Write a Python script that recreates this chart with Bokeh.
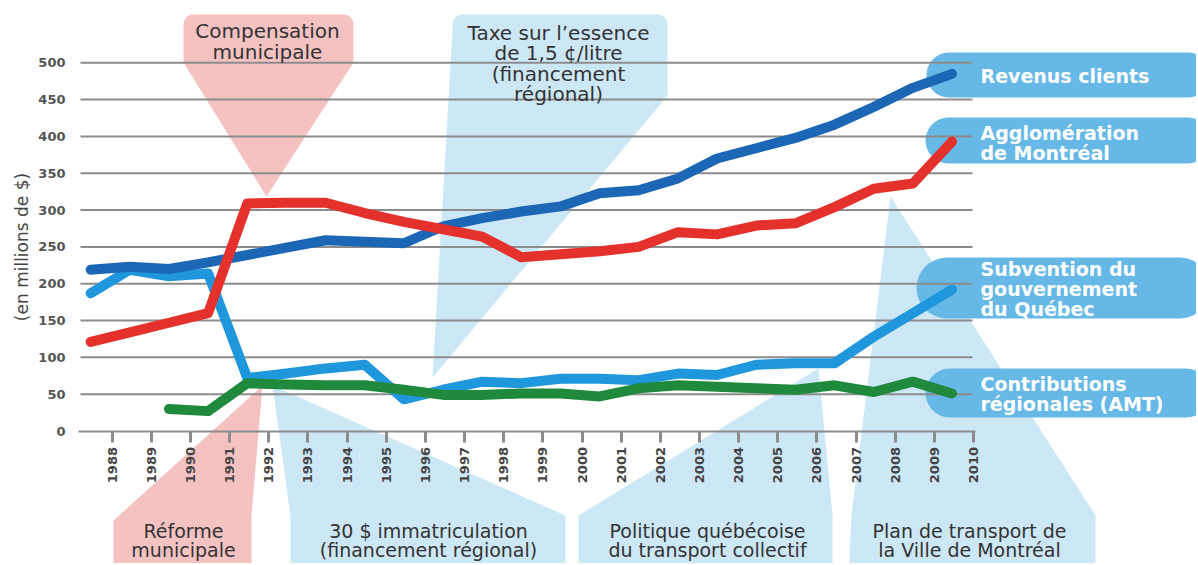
import math
import numpy as np
from bokeh.plotting import figure
from bokeh.models import Range1d, LinearAxis, FixedTicker
from bokeh.core.properties import value
from bokeh.embed import file_html
from bokeh.resources import INLINE

# ---------------- data ----------------
years = list(range(1988, 2011))
revenus_clients = [219, 223, 220, 229, 239, 249, 259, 257, 255, 278, 289, 298,
                   305, 323, 327, 343, 370, 384, 398, 416, 440, 466, 485]
agglomeration = [121, 134, 147, 160, 309, 310, 310, 296, 284, 274, 264, 236,
                 240, 244, 250, 270, 267, 279, 282, 304, 329, 336, 393]
subvention = [187, 219, 210, 214, 72, 78, 85, 90, 43, 56, 67, 65,
              71, 71, 69, 78, 76, 90, 92, 92, 128, 160, 192]
amt_years = list(range(1990, 2011))
contributions = [30, 27, 65, 63, 62, 62, 56, 49, 49, 51, 51, 47,
                 58, 62, 60, 58, 56, 62, 53, 67, 51]

y_ticks = [0, 50, 100, 150, 200, 250, 300, 350, 400, 450, 500]
y_title = "(en millions de $)"

series_labels = [
    ["Revenus clients"],
    ["Agglomération", "de Montréal"],
    ["Subvention du", "gouvernement", "du Québec"],
    ["Contributions", "régionales (AMT)"],
]
events_top = [["Compensation", "municipale"],
              ["Taxe sur l’essence", "de 1,5 ¢/litre", "(financement", "régional)"]]
events_bottom = [["Réforme", "municipale"],
                 ["30 $ immatriculation", "(financement régional)"],
                 ["Politique québécoise", "du transport collectif"],
                 ["Plan de transport de", "la Ville de Montréal"]]

# ---------------- layout helpers (page pixels -> data) ----------------
X_PX0, X_STEP = 111.7, 39.15     # px of the 1988 tick, px per year
Y_PX0, Y_SCALE = 430.5, 0.7364   # px of value 0, px per unit
OFF = 0                          # observed offset of the canvas on the page


def px2x(px):
    return 1988 + (px - X_PX0) / X_STEP


def py2y(py):
    return (Y_PX0 - py) / Y_SCALE


def conv(pts):
    return [px2x(a) for a, b in pts], [py2y(b) for a, b in pts]


def arc(cx, cy, r, a0, a1, n=10):
    return [(cx + r * math.cos(a), cy + r * math.sin(a)) for a in np.linspace(a0, a1, n)]


def pill(x0, y0, x1, y1):
    r = (y1 - y0) / 2
    cy = (y0 + y1) / 2
    pts = arc(x0 + r, cy, r, 0.5 * math.pi, 1.5 * math.pi, 16)
    pts += arc(x1 - r, cy, r, 1.5 * math.pi, 2.5 * math.pi, 16)
    return pts


W, H = 1196, 563
p = figure(width=W, height=H, output_backend="svg", toolbar_location=None,
           x_range=Range1d(px2x(OFF), px2x(OFF + W)),
           y_range=Range1d(py2y(OFF + H), py2y(OFF)),
           x_axis_type=None, y_axis_type=None, min_border=0)
p.outline_line_color = None
p.background_fill_color = "white"

PINK = "#f5c2c2"
PALE = "#cce7f6"
PILL = "#66b9e6"

# ---------------- event shapes ----------------
shapes = []
s = arc(193, 24, 10, math.pi, 1.5 * math.pi) + arc(343, 24, 10, 1.5 * math.pi, 2 * math.pi)
s += [(353, 62), (266, 196), (183, 62)]
shapes.append((s, PINK))
s = arc(462, 24, 10, math.pi, 1.5 * math.pi) + arc(657, 24, 10, 1.5 * math.pi, 2 * math.pi)
s += [(667, 95), (432, 377), (452, 30)]
shapes.append((s, PALE))
shapes.append(([(262, 385), (251, 515), (251, 580), (113, 580), (113, 520)], PINK))
shapes.append(([(272, 385), (565, 515), (565, 580), (290, 580), (290, 515)], PALE))
shapes.append(([(818, 368), (832, 515), (832, 580), (578, 580), (578, 515)], PALE))
shapes.append(([(890, 196), (1095, 515), (1095, 580), (848, 580), (851, 515)], PALE))

xs, ys, cs = [], [], []
for pts, c in shapes:
    a, b = conv(pts)
    xs.append(a)
    ys.append(b)
    cs.append(c)
p.patches(xs=xs, ys=ys, fill_color=cs, line_color=None)

# ---------------- legend pills ----------------
pill_boxes = [(926, 52, 1210, 97), (925, 117, 1210, 163), (916, 257, 1210, 318), (925, 368, 1210, 417)]
pxs, pys = [], []
for b in pill_boxes:
    a, c = conv(pill(*b))
    pxs.append(a)
    pys.append(c)
p.patches(xs=pxs, ys=pys, fill_color=PILL, line_color=None)

# ---------------- gridlines ----------------
grid_vals = y_ticks[1:]
p.segment(x0=[px2x(80)] * len(grid_vals), x1=[px2x(972)] * len(grid_vals),
          y0=grid_vals, y1=grid_vals, line_color="#8c8c8c", line_width=2)

# ---------------- series ----------------
SHIFT = -0.55  # data points sit between the year ticks in the original
xd = [y + SHIFT for y in years]
xa = [y + SHIFT for y in amt_years]
kw = dict(line_width=10, line_cap="round", line_join="round")
p.line(xd, subvention, line_color="#1e97dd", **kw)
p.line(xd, revenus_clients, line_color="#1b66b5", **kw)
p.line(xa, contributions, line_color="#1f8a3b", **kw)
p.line(xd, agglomeration, line_color="#e5312b", **kw)

# ---------------- axes ----------------
xaxis = LinearAxis(fixed_location=0, ticker=FixedTicker(ticks=years),
                   bounds=(px2x(78), px2x(975)))
xaxis.axis_line_color = "#8c8c8c"
xaxis.axis_line_width = 2
xaxis.major_tick_line_color = "#8c8c8c"
xaxis.major_tick_line_width = 3
xaxis.major_tick_in = 0
xaxis.major_tick_out = 11
xaxis.minor_tick_line_color = None
xaxis.major_label_orientation = math.pi / 2
xaxis.major_label_standoff = 5
xaxis.major_label_text_font = "DejaVu Sans"
xaxis.major_label_text_font_size = "13px"
xaxis.major_label_text_font_style = "bold"
xaxis.major_label_text_color = "#444444"
p.add_layout(xaxis, "below")

yaxis = LinearAxis(fixed_location=px2x(80), ticker=FixedTicker(ticks=y_ticks),
                   bounds=(0, 500), axis_label=y_title)
yaxis.axis_line_color = None
yaxis.major_tick_line_color = None
yaxis.minor_tick_line_color = None
yaxis.major_label_standoff = 9
yaxis.major_label_text_font = "DejaVu Sans"
yaxis.major_label_text_font_size = "13px"
yaxis.major_label_text_font_style = "bold"
yaxis.major_label_text_color = "#555555"
yaxis.axis_label_text_font = "DejaVu Sans"
yaxis.axis_label_text_font_size = "17px"
yaxis.axis_label_text_font_style = "normal"
yaxis.axis_label_text_color = "#444444"
yaxis.axis_label_standoff = 3
p.add_layout(yaxis, "left")

# ---------------- texts ----------------
def put_lines(lines, cx, y_first, step, color, bold, align, size):
    tx = [px2x(cx)] * len(lines)
    ty = [py2y(y_first + i * step) for i in range(len(lines))]
    p.text(x=tx, y=ty, text=lines, text_font=value("DejaVu Sans"),
           text_font_size=size, text_font_style="bold" if bold else "normal",
           text_color=color, text_align=align, text_baseline="middle")

DARK = "#333333"
put_lines(events_top[0], 267, 30, 21, DARK, False, "center", "20px")
put_lines(events_top[1], 558, 32, 20.5, DARK, False, "center", "20px")
put_lines(events_bottom[0], 183, 530, 19, DARK, False, "center", "19px")
put_lines(events_bottom[1], 428, 530, 19, DARK, False, "center", "19px")
put_lines(events_bottom[2], 707, 530, 19, DARK, False, "center", "19px")
put_lines(events_bottom[3], 969, 530, 19, DARK, False, "center", "19px")

pill_text_y = [75, 132, 268, 383]
for lines, yy in zip(series_labels, pill_text_y):
    put_lines(lines, 980, yy, 20, "white", True, "left", "19px")

open("out.html", "w").write(file_html(p, INLINE))
